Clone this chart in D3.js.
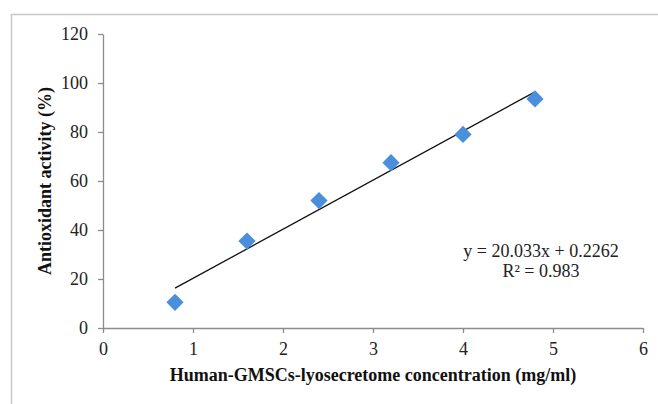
<!DOCTYPE html>
<html>
<head>
<meta charset="utf-8">
<script src="https://cdn.jsdelivr.net/npm/d3@7"></script>
<style>
  body { margin: 0; background: #fff; }
  svg, svg text { font-family: "Liberation Serif", "Times New Roman", serif; }
  svg { display: block; }
</style>
</head>
<body>
<div id="chart"></div>
<script>
// data
var concentrations = [0.8, 1.6, 2.4, 3.2, 4.0, 4.8];
var activity = [10.5, 35.5, 52, 67.5, 79, 93.5];
var xTicks = [0, 1, 2, 3, 4, 5, 6];
var yTicks = [0, 20, 40, 60, 80, 100, 120];
var slope = 20.033, intercept = 0.2262, rSquared = 0.983;

var W = 658, H = 404;
var margin = {top: 34, right: 15, bottom: 76, left: 103},
    width = W - margin.left - margin.right,
    height = H - margin.top - margin.bottom;

var root = d3.select('#chart')
    .append('svg')
    .attr('width', W)
    .attr('height', H);

// outer chart frame (only top and left show in the crop)
root.append('path')
    .attr('d', 'M11.5,' + H + 'V14.5H' + W)
    .attr('fill', 'none')
    .attr('stroke', '#c8c8c8')
    .attr('stroke-width', 1.5);

var svg = root.append('g')
    .attr('transform', 'translate(' + margin.left + ',' + margin.top + ')');

var x = d3.scaleLinear().domain([0, 6]).range([0, width]);
var y = d3.scaleLinear().domain([0, 120]).range([height, 0]);

var xAxis = svg.append('g')
    .attr('transform', 'translate(0,' + height + ')')
    .call(d3.axisBottom(x).tickValues(xTicks).tickFormat(d3.format('d'))
        .tickSize(5).tickPadding(9).tickSizeOuter(0));

var yAxis = svg.append('g')
    .call(d3.axisLeft(y).tickValues(yTicks).tickFormat(d3.format('d'))
        .tickSize(5).tickPadding(10).tickSizeOuter(0));

[xAxis, yAxis].forEach(function(a) {
    a.attr('font-family', null).attr('font-size', 18);
    a.selectAll('path, line').attr('stroke', '#8c8c8c').attr('stroke-width', 1.3);
    a.selectAll('text').attr('fill', '#222');
});

// trendline
svg.append('line')
    .attr('x1', x(concentrations[0]))
    .attr('y1', y(slope * concentrations[0] + intercept))
    .attr('x2', x(concentrations[concentrations.length - 1]))
    .attr('y2', y(slope * concentrations[concentrations.length - 1] + intercept))
    .attr('stroke', '#111')
    .attr('stroke-width', 1.3);

// diamonds
var diamond = d3.symbol().type(d3.symbolDiamond2).size(190);
svg.append('g')
    .selectAll('path')
    .data(concentrations)
    .enter()
    .append('path')
    .attr('d', diamond)
    .attr('transform', function(d, i) {
        return 'translate(' + x(d) + ',' + y(activity[i]) + ')';
    })
    .attr('fill', '#4a8fdb');

// equation
var eq = svg.append('text')
    .attr('text-anchor', 'middle')
    .attr('fill', '#222')
    .style('font-size', '18px');
eq.append('tspan')
    .attr('x', 438).attr('y', 223)
    .text('y = ' + slope + 'x + ' + intercept);
eq.append('tspan')
    .attr('x', 438).attr('y', 243)
    .text('R² = ' + rSquared);

// axis titles
svg.append('text')
    .attr('text-anchor', 'middle')
    .attr('x', width / 2)
    .attr('y', height + 53)
    .attr('fill', '#111')
    .style('font-size', '18px')
    .style('font-weight', 'bold')
    .text('Human-GMSCs-lyosecretome concentration (mg/ml)');

svg.append('text')
    .attr('text-anchor', 'middle')
    .attr('transform', 'rotate(-90)')
    .attr('x', -height / 2)
    .attr('y', -52)
    .attr('fill', '#111')
    .style('font-size', '18px')
    .style('font-weight', 'bold')
    .text('Antioxidant activity (%)');
</script>
</body>
</html>
